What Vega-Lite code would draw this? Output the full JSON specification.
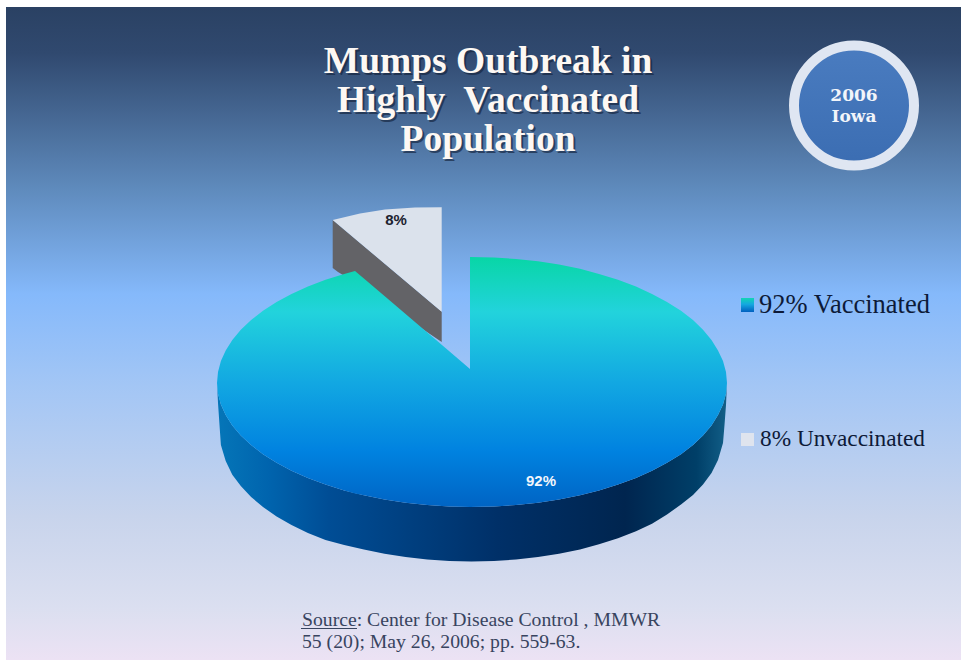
{
  "$schema": "https://vega.github.io/schema/vega-lite/v6.json",
  "width": 961,
  "height": 660,
  "padding": 0,
  "autosize": "none",
  "background": "white",
  "view": {"stroke": null},
  "datasets": {
    "panel": [{"x": 6, "x2": 961, "y": 7, "y2": 660}],
    "slice8Side": [
      {"x": 332.7, "y": 220, "y2": 268},
      {"x": 338, "y": 224.5, "y2": 272},
      {"x": 343, "y": 228.7, "y2": 275},
      {"x": 441.7, "y": 311.7, "y2": 342}
    ],
    "slice8Top": [
      {"x": 332.7, "y": 220, "y2": 220},
      {"x": 360, "y": 213.5, "y2": 243},
      {"x": 385, "y": 209.5, "y2": 264},
      {"x": 415, "y": 207.5, "y2": 289.2},
      {"x": 441.7, "y": 207.3, "y2": 311.7}
    ],
    "slice92Wall": [
      {"x": 217, "y": 383, "y2": 383},
      {"x": 218, "y": 393.8, "y2": 403},
      {"x": 219.5, "y": 399, "y2": 425},
      {"x": 220.9, "y": 404.6, "y2": 445},
      {"x": 225.7, "y": 415.1, "y2": 461},
      {"x": 232.3, "y": 425.4, "y2": 474.7},
      {"x": 240.8, "y": 435.5, "y2": 486},
      {"x": 251.1, "y": 445, "y2": 497},
      {"x": 263, "y": 454.2, "y2": 507},
      {"x": 276.6, "y": 462.7, "y2": 516.5},
      {"x": 291.5, "y": 470.7, "y2": 525},
      {"x": 307.9, "y": 478, "y2": 533},
      {"x": 325.5, "y": 484.6, "y2": 540},
      {"x": 344.2, "y": 490.4, "y2": 545},
      {"x": 363.9, "y": 495.3, "y2": 549.6},
      {"x": 384.5, "y": 499.6, "y2": 553.8},
      {"x": 405.6, "y": 502.8, "y2": 557.1},
      {"x": 427.3, "y": 505.1, "y2": 559.5},
      {"x": 449.3, "y": 506.5, "y2": 561},
      {"x": 471.5, "y": 507, "y2": 561.5},
      {"x": 494, "y": 506.5, "y2": 561},
      {"x": 516, "y": 505.1, "y2": 559.5},
      {"x": 538, "y": 502.8, "y2": 557.1},
      {"x": 559, "y": 499.6, "y2": 553.8},
      {"x": 580, "y": 495.3, "y2": 549.4},
      {"x": 599, "y": 490.4, "y2": 544.3},
      {"x": 618, "y": 484.6, "y2": 538.2},
      {"x": 636, "y": 478, "y2": 531.3},
      {"x": 652, "y": 470.7, "y2": 523.8},
      {"x": 667, "y": 462.7, "y2": 514.5},
      {"x": 681, "y": 454.2, "y2": 504.5},
      {"x": 693, "y": 445, "y2": 495},
      {"x": 703, "y": 435.5, "y2": 484.5},
      {"x": 711.5, "y": 425.4, "y2": 473},
      {"x": 718, "y": 415.1, "y2": 460},
      {"x": 723, "y": 404.6, "y2": 443},
      {"x": 724.5, "y": 399, "y2": 425},
      {"x": 726, "y": 393.8, "y2": 405},
      {"x": 727, "y": 383, "y2": 383}
    ],
    "slice92Top": [
      {"x": 217, "y": 383, "y2": 383},
      {"x": 218, "y": 372, "y2": 393.8},
      {"x": 220.9, "y": 361.1, "y2": 404.6},
      {"x": 225.7, "y": 350.4, "y2": 415.1},
      {"x": 232.3, "y": 339.9, "y2": 425.4},
      {"x": 240.8, "y": 329.7, "y2": 435.5},
      {"x": 251.1, "y": 320, "y2": 445},
      {"x": 263, "y": 310.7, "y2": 454.2},
      {"x": 276.6, "y": 302, "y2": 462.7},
      {"x": 291.5, "y": 293.9, "y2": 470.7},
      {"x": 307.9, "y": 286.5, "y2": 478},
      {"x": 325.5, "y": 279.8, "y2": 484.6},
      {"x": 344.2, "y": 273.9, "y2": 490.4},
      {"x": 355, "y": 271, "y2": 493.5},
      {"x": 363.9, "y": 278.6, "y2": 495.3},
      {"x": 384.5, "y": 296.1, "y2": 499.6},
      {"x": 405.6, "y": 314.1, "y2": 502.8},
      {"x": 427.3, "y": 332.6, "y2": 505.1},
      {"x": 449.3, "y": 351.3, "y2": 506.5},
      {"x": 470, "y": 369, "y2": 507},
      {"x": 470.01, "y": 257, "y2": 507},
      {"x": 494, "y": 257.5, "y2": 506.5},
      {"x": 516, "y": 259, "y2": 505.1},
      {"x": 538, "y": 261.2, "y2": 502.8},
      {"x": 559, "y": 264.6, "y2": 499.6},
      {"x": 580, "y": 268.7, "y2": 495.3},
      {"x": 599, "y": 273.9, "y2": 490.4},
      {"x": 618, "y": 279.8, "y2": 484.6},
      {"x": 636, "y": 286.5, "y2": 478},
      {"x": 652, "y": 293.9, "y2": 470.7},
      {"x": 667, "y": 302, "y2": 462.7},
      {"x": 681, "y": 310.7, "y2": 454.2},
      {"x": 693, "y": 320, "y2": 445},
      {"x": 703, "y": 329.7, "y2": 435.5},
      {"x": 711.5, "y": 339.9, "y2": 425.4},
      {"x": 718, "y": 350.4, "y2": 415.1},
      {"x": 723, "y": 361.1, "y2": 404.6},
      {"x": 726, "y": 372, "y2": 393.8},
      {"x": 727, "y": 383, "y2": 383}
    ]
  },
  "encoding": {
    "x": {"field": "x", "type": "quantitative", "scale": {"domain": [0, 961], "nice": false, "zero": false}, "axis": null},
    "y": {"field": "y", "type": "quantitative", "scale": {"domain": [660, 0], "nice": false, "zero": false}, "axis": null}
  },
  "layer": [
    {
      "data": {"name": "panel"},
      "mark": {"type": "rect", "fill": {"gradient": "linear", "x1": 0, "y1": 0, "x2": 0, "y2": 1, "stops": [
        {"offset": 0, "color": "#2a4163"},
        {"offset": 0.07, "color": "#30496f"},
        {"offset": 0.28, "color": "#5f8bbd"},
        {"offset": 0.44, "color": "#85b9fb"},
        {"offset": 0.58, "color": "#a3c6f5"},
        {"offset": 0.78, "color": "#c8d4ec"},
        {"offset": 0.92, "color": "#dbdff0"},
        {"offset": 1, "color": "#ece2f4"}
      ]}},
      "encoding": {"x2": {"field": "x2"}, "y2": {"field": "y2"}}
    },
    {
      "data": {"name": "slice8Side"},
      "mark": {"type": "area", "fill": "#636367"},
      "encoding": {"y2": {"field": "y2"}}
    },
    {
      "data": {"name": "slice8Top"},
      "mark": {"type": "area", "fill": "#dbe2ec"},
      "encoding": {"y2": {"field": "y2"}}
    },
    {
      "data": {"name": "slice92Wall"},
      "mark": {"type": "area", "fill": {"gradient": "linear", "x1": 0, "y1": 0, "x2": 1, "y2": 0, "stops": [
        {"offset": 0, "color": "#0576b8"},
        {"offset": 0.1, "color": "#0064ae"},
        {"offset": 0.22, "color": "#004d95"},
        {"offset": 0.55, "color": "#003068"},
        {"offset": 0.8, "color": "#00254f"},
        {"offset": 0.94, "color": "#003f68"},
        {"offset": 1, "color": "#125f88"}
      ]}},
      "encoding": {"y2": {"field": "y2"}}
    },
    {
      "data": {"name": "slice92Top"},
      "mark": {"type": "area", "fill": {"gradient": "linear", "x1": 0, "y1": 0, "x2": 0, "y2": 1, "stops": [
        {"offset": 0, "color": "#08d6a6"},
        {"offset": 0.22, "color": "#22d3dc"},
        {"offset": 0.5, "color": "#12a8e2"},
        {"offset": 0.78, "color": "#0082e0"},
        {"offset": 1, "color": "#0064c4"}
      ]}},
      "encoding": {"y2": {"field": "y2"}}
    },
    {
      "data": {"values": [{"x": 854, "y": 105.5}]},
      "mark": {"type": "point", "shape": "circle", "size": 14400, "filled": true, "opacity": 1, "strokeWidth": 10, "stroke": "#dfe6f2", "fill": {"gradient": "linear", "x1": 0, "y1": 0, "x2": 0, "y2": 1, "stops": [
        {"offset": 0, "color": "#4a7cc0"},
        {"offset": 1, "color": "#3b6db2"}
      ]}}
    },
    {
      "data": {"values": [
        {"x": 490, "y": 75, "t": "Mumps Outbreak in"},
        {"x": 490, "y": 114, "t": "Highly\u00a0 Vaccinated"},
        {"x": 490, "y": 153, "t": "Population"}
      ]},
      "mark": {"type": "text", "font": "Liberation Serif", "fontWeight": "bold", "fontSize": 37.5, "baseline": "alphabetic", "align": "center", "fill": "#14233c", "opacity": 0.65},
      "encoding": {"text": {"field": "t"}}
    },
    {
      "data": {"values": [
        {"x": 488, "y": 73, "t": "Mumps Outbreak in"},
        {"x": 488, "y": 112, "t": "Highly\u00a0 Vaccinated"},
        {"x": 488, "y": 151, "t": "Population"}
      ]},
      "mark": {"type": "text", "font": "Liberation Serif", "fontWeight": "bold", "fontSize": 37.5, "baseline": "alphabetic", "align": "center", "fill": "#fdf8f4"},
      "encoding": {"text": {"field": "t"}}
    },
    {
      "data": {"values": [
        {"x": 854, "y": 101, "t": "2006"},
        {"x": 854, "y": 122, "t": "Iowa"}
      ]},
      "mark": {"type": "text", "font": "DejaVu Serif", "fontWeight": "bold", "fontSize": 17, "baseline": "alphabetic", "align": "center", "fill": "#f2f5fa"},
      "encoding": {"text": {"field": "t"}}
    },
    {
      "data": {"values": [{"x": 396, "y": 225, "t": "8%"}]},
      "mark": {"type": "text", "font": "Liberation Sans", "fontWeight": "bold", "fontSize": 15, "baseline": "alphabetic", "align": "center", "fill": "#1c2230"},
      "encoding": {"text": {"field": "t"}}
    },
    {
      "data": {"values": [{"x": 541, "y": 486, "t": "92%"}]},
      "mark": {"type": "text", "font": "Liberation Sans", "fontWeight": "bold", "fontSize": 15, "baseline": "alphabetic", "align": "center", "fill": "#f2f6fb"},
      "encoding": {"text": {"field": "t"}}
    },
    {
      "data": {"values": [{"x": 741, "x2": 754, "y": 298, "y2": 312}]},
      "mark": {"type": "rect", "fill": {"gradient": "linear", "x1": 0, "y1": 0, "x2": 0, "y2": 1, "stops": [
        {"offset": 0, "color": "#12d4b4"},
        {"offset": 0.45, "color": "#14a8e0"},
        {"offset": 1, "color": "#0060c0"}
      ]}},
      "encoding": {"x2": {"field": "x2"}, "y2": {"field": "y2"}}
    },
    {
      "data": {"values": [{"x": 741, "x2": 754, "y": 433, "y2": 446}]},
      "mark": {"type": "rect", "fill": "#dfe4ee"},
      "encoding": {"x2": {"field": "x2"}, "y2": {"field": "y2"}}
    },
    {
      "data": {"values": [{"x": 759, "y": 313, "t": "92% Vaccinated"}]},
      "mark": {"type": "text", "font": "Liberation Serif", "fontSize": 26.5, "baseline": "alphabetic", "align": "left", "fill": "#0d1a38"},
      "encoding": {"text": {"field": "t"}}
    },
    {
      "data": {"values": [{"x": 760, "y": 446, "t": "8% Unvaccinated"}]},
      "mark": {"type": "text", "font": "Liberation Serif", "fontSize": 23.3, "baseline": "alphabetic", "align": "left", "fill": "#0d1a38"},
      "encoding": {"text": {"field": "t"}}
    },
    {
      "data": {"values": [
        {"x": 302, "y": 626, "t": "Source: Center for Disease Control , MMWR"},
        {"x": 302, "y": 648, "t": "55 (20); May 26, 2006; pp. 559-63."}
      ]},
      "mark": {"type": "text", "font": "Liberation Serif", "fontSize": 19.7, "baseline": "alphabetic", "align": "left", "fill": "#38445f"},
      "encoding": {"text": {"field": "t"}}
    },
    {
      "data": {"values": [{"x": 301, "x2": 357, "y": 628.5}]},
      "mark": {"type": "rule", "stroke": "#38445f", "strokeWidth": 1.2},
      "encoding": {"x2": {"field": "x2"}}
    }
  ]
}
